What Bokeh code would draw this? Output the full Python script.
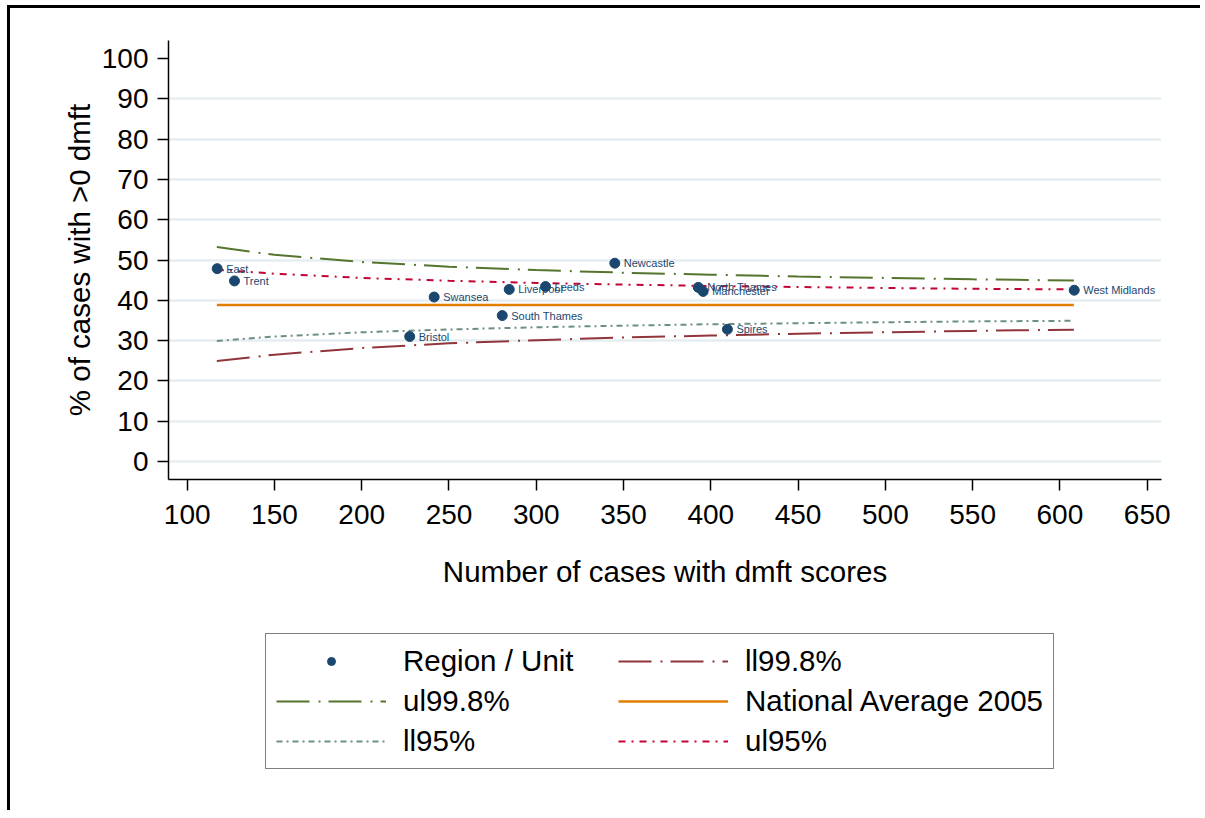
from bokeh.plotting import figure
from bokeh.models import (Range1d, FixedTicker, Legend, LegendItem,
                          ColumnDataSource, LabelSet)
from bokeh.layouts import column
from bokeh.core.properties import value
from bokeh.embed import file_html
from bokeh.resources import INLINE

# ---- data ----
regions = ["East", "Trent", "Bristol", "Swansea", "South Thames", "Liverpool",
           "Leeds", "Newcastle", "North Thames", "Manchester", "Spires", "West Midlands"]
cases = [117.2, 127.1, 227.5, 241.5, 280.5, 284.5, 305.3, 345.0, 392.8, 395.6, 409.5, 608.2]
pct_dmft = [47.85, 44.8, 31.0, 40.8, 36.2, 42.7, 43.4, 49.2, 43.2, 42.2, 32.8, 42.5]

limit_n = [117, 150, 200, 250, 300, 350, 400, 450, 500, 550, 608]
ul998 = [53.2, 51.3, 49.5, 48.35, 47.5, 46.85, 46.35, 45.9, 45.55, 45.2, 44.9]
ll998 = [24.9, 26.5, 28.15, 29.3, 30.1, 30.75, 31.25, 31.7, 32.05, 32.4, 32.7]
ul95 = [47.6, 46.6, 45.55, 44.85, 44.3, 43.9, 43.55, 43.3, 43.05, 42.85, 42.7]
ll95 = [29.9, 31.0, 32.05, 32.75, 33.3, 33.7, 34.05, 34.3, 34.55, 34.75, 34.9]
national_avg = 38.8

x_ticks = [100, 150, 200, 250, 300, 350, 400, 450, 500, 550, 600, 650]
y_ticks = [0, 10, 20, 30, 40, 50, 60, 70, 80, 90, 100]

legend_labels = ["Region / Unit", "ll99.8%", "ul99.8%", "National Average 2005", "ll95%", "ul95%"]

# ---- styling ----
FONT = "Liberation Sans"
NAVY = "#1a476f"
MAROON = "#90353b"
FOREST = "#55752f"
ORANGE = "#e37e00"
TEAL = "#6e8e84"
CRANBERRY = "#c10534"
GRID = "#e6eef1"

series_styles = [
    dict(line_color=MAROON, line_width=2, line_dash="33 9 2 8"),
    dict(line_color=FOREST, line_width=2, line_dash="33 9 2 8"),
    dict(line_color=ORANGE, line_width=2.5),
    dict(line_color=TEAL, line_width=2, line_dash="6 4 2 4"),
    dict(line_color=CRANBERRY, line_width=2, line_dash="7 6 2 6"),
]
series_values = [ll998, ul998, [national_avg] * len(limit_n), ll95, ul95]

W = 1190
H_MAIN = 612
H_LEG = 190

p = figure(width=W, height=H_MAIN, output_backend="svg", toolbar_location=None,
           x_range=Range1d(89.3, 658.2), y_range=Range1d(-4.5, 104.5),
           min_border_left=158, min_border_right=39, min_border_top=32,
           min_border_bottom=H_MAIN - 471)
p.background_fill_color = "white"
p.border_fill_color = "white"
p.outline_line_color = None

for ax in (p.xaxis[0], p.yaxis[0]):
    ax.axis_line_color = "black"
    ax.axis_line_width = 1.5
    ax.major_tick_line_color = "black"
    ax.major_tick_line_width = 1.5
    ax.major_tick_out = 11
    ax.major_tick_in = 0
    ax.minor_tick_line_color = None
    ax.major_label_text_font = FONT
    ax.major_label_text_font_size = "28px"
    ax.major_label_text_color = "black"
    ax.axis_label_text_font = FONT
    ax.axis_label_text_font_size = "29.5px"
    ax.axis_label_text_font_style = "normal"
    ax.axis_label_text_color = "black"

p.xaxis.ticker = FixedTicker(ticks=x_ticks)
p.yaxis.ticker = FixedTicker(ticks=y_ticks)
p.xaxis.axis_label = "Number of cases with dmft scores"
p.yaxis.axis_label = "% of cases with >0 dmft"
p.xaxis.major_label_standoff = 14
p.xaxis.axis_label_standoff = 28
p.yaxis.major_label_standoff = 9
p.yaxis.axis_label_standoff = 3
p.yaxis.major_label_orientation = "horizontal"

p.xgrid.grid_line_color = None
p.ygrid.ticker = FixedTicker(ticks=y_ticks[:-1])
p.ygrid.grid_line_color = GRID
p.ygrid.grid_line_width = 2.5

for vals, st in zip(series_values, series_styles):
    p.line(limit_n, vals, **st)

src = ColumnDataSource(dict(x=cases, y=pct_dmft, name=regions))
p.scatter("x", "y", source=src, size=10, color=NAVY, line_color=NAVY)
labels = LabelSet(x="x", y="y", text="name", source=src, x_offset=9, y_offset=0,
                  text_font=value(FONT), text_font_size="11px", text_color=NAVY,
                  text_baseline="middle")
p.add_layout(labels)

# ---- legend panel (separate figure so nothing is clipped) ----
lg = figure(width=W, height=H_LEG, output_backend="svg", toolbar_location=None,
            x_range=Range1d(0, 1), y_range=Range1d(0, 1),
            min_border_left=0, min_border_right=0, min_border_top=0,
            min_border_bottom=0)
lg.axis.visible = False
lg.grid.visible = False
lg.outline_line_color = None
lg.background_fill_color = "white"
lg.border_fill_color = "white"

# off-screen proxies that only supply the legend glyph styles
off = [-5, -4]
proxies = [lg.scatter(off, off, size=8, color=NAVY, line_color=NAVY)]
for st in series_styles:
    proxies.append(lg.line(off, off, **st))

items = [LegendItem(label=lab, renderers=[r]) for lab, r in zip(legend_labels, proxies)]
# legend fills column by column: reorder so that rows read as in the reference
order = [0, 2, 4, 1, 3, 5]
legend = Legend(items=[items[i] for i in order], location=(97, 41), ncols=2,
                label_text_font=FONT, label_text_font_size="29.5px",
                label_text_color="black", glyph_width=110, glyph_height=20,
                label_standoff=17, label_width=209, spacing=6, padding=10,
                border_line_color="black", border_line_width=1.5,
                background_fill_color="white", background_fill_alpha=1.0)
lg.add_layout(legend)

layout = column(p, lg, spacing=0,
                styles={"margin-left": "7px", "margin-top": "5px",
                        "border-left": "3px solid black",
                        "border-top": "3px solid black"})

open("out.html", "w").write(file_html(layout, INLINE))
